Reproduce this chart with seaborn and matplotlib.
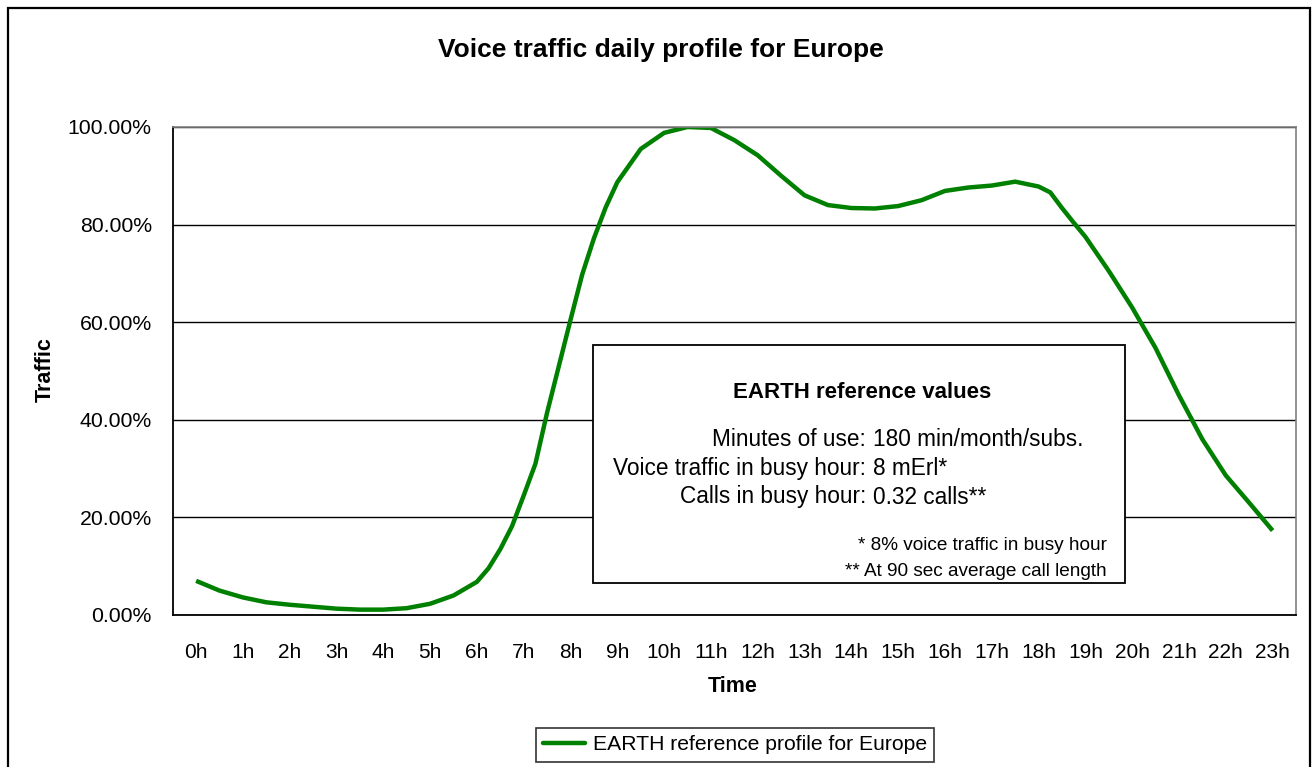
import matplotlib
matplotlib.use("Agg")
import matplotlib.pyplot as plt
import pandas as pd
import seaborn as sns
from matplotlib.patches import Rectangle
from matplotlib.ticker import FixedLocator, FuncFormatter

# Daily voice traffic profile (percent of busy hour);
# half-hour steps, with extra quarter-hour readings on the steep morning rise
hours = [0, 0.5, 1, 1.5, 2, 2.5, 3, 3.5, 4, 4.5, 5, 5.5, 6, 6.25, 6.5, 6.75,
         7, 7.25, 7.5, 7.75, 8, 8.25, 8.5, 8.75, 9, 9.5, 10, 10.5, 11, 11.5,
         12, 12.5, 13, 13.5, 14, 14.5, 15, 15.5, 16, 16.5, 17, 17.5, 18,
         18.25, 18.5, 18.75, 19, 19.5, 20, 20.5, 21, 21.5, 22, 22.5, 23]
traffic = [7.0, 5.0, 3.6, 2.6, 2.1, 1.7, 1.3, 1.1, 1.1, 1.4, 2.3, 4.0, 6.8,
           9.6, 13.5, 18.2, 24.5, 31.0, 41.5, 51.0, 60.5, 69.8, 77.2, 83.5,
           88.7, 95.5, 98.8, 100.0, 99.8, 97.3, 94.2, 90.0, 86.0, 84.0, 83.4,
           83.3, 83.8, 85.0, 86.9, 87.6, 88.0, 88.8, 87.8, 86.6, 83.4, 80.4,
           77.5, 70.5, 63.0, 54.7, 45.0, 36.0, 28.6, 23.0, 17.3]

hour_labels = ["0h", "1h", "2h", "3h", "4h", "5h", "6h", "7h", "8h", "9h",
               "10h", "11h", "12h", "13h", "14h", "15h", "16h", "17h",
               "18h", "19h", "20h", "21h", "22h", "23h"]
y_ticks = [0, 20, 40, 60, 80, 100]

info_labels = ["Minutes of use:", "Voice traffic in busy hour:", "Calls in busy hour:"]
info_values = ["180 min/month/subs.", "8 mErl*", "0.32 calls**"]
footnotes = ["* 8% voice traffic in busy hour", "** At 90 sec average call length"]

GREEN = "#008000"
W, H = 1314, 767


def fx(px):
    return px / W


def fy(py):
    return 1 - py / H


sns.set_style("white")
plt.rcParams['font.family'] = ['Liberation Sans', 'DejaVu Sans']
plt.rcParams['text.color'] = 'black'
plt.rcParams['axes.labelcolor'] = 'black'

fig = plt.figure(figsize=(W / 100, H / 100), dpi=100)
ax = fig.add_axes([fx(172.7), fy(615), (1296 - 172.7) / W, (615 - 127) / H])

df = pd.DataFrame({"hour": hours, "traffic": traffic})
sns.lineplot(data=df, x="hour", y="traffic", ax=ax, color=GREEN, lw=3.2,
             solid_joinstyle="round", solid_capstyle="butt", legend=False)

ax.set_xlim(-0.5, 23.5)
ax.set_ylim(0, 100)
ax.set_xlabel("")
ax.set_ylabel("")

# category axis: labels centered, tick marks between categories
ax.xaxis.set_major_locator(FixedLocator(list(range(24))))
ax.set_xticklabels(hour_labels)
ax.xaxis.set_minor_locator(FixedLocator([i - 0.5 for i in range(25)]))
ax.tick_params(axis="x", which="major", length=0, pad=20, labelsize=15, colors="black")
ax.tick_params(axis="x", which="minor", length=7, width=1.2, direction="out", color="black")

ax.set_yticks(y_ticks)
ax.yaxis.set_major_formatter(FuncFormatter(lambda v, p: f"{v:.2f}%"))
ax.tick_params(axis="y", length=6, width=1.2, direction="out", pad=9, labelsize=15.3, colors="black")

ax.yaxis.grid(True, color="black", lw=1.0)
ax.set_axisbelow(True)
for side in ["left", "bottom"]:
    ax.spines[side].set_color("black")
    ax.spines[side].set_linewidth(1.3)
for side in ["top", "right"]:
    ax.spines[side].set_color("#808080")
    ax.spines[side].set_linewidth(1.2)

# titles
fig.text(fx(661), fy(50), "Voice traffic daily profile for Europe", ha="center", va="center",
         fontsize=19, fontweight="bold")
fig.text(fx(733), fy(686), "Time", ha="center", va="center", fontsize=15.5, fontweight="bold")
fig.text(fx(45), fy(370), "Traffic", ha="center", va="center", rotation=90,
         fontsize=15.5, fontweight="bold")

# reference values box
box = Rectangle((fx(593), fy(583)), (1125 - 593) / W, (583 - 345) / H,
                transform=fig.transFigure, facecolor="white", edgecolor="black",
                lw=1.3, zorder=5)
fig.add_artist(box)
fig.text(fx(862), fy(392), "EARTH reference values", ha="center", va="center",
         fontsize=16, fontweight="bold", zorder=6)
for i, (lab, val) in enumerate(zip(info_labels, info_values)):
    yy = fy(440 + i * 28.5)
    fig.text(fx(866), yy, lab, ha="right", va="center", fontsize=16.3, zorder=6)
    fig.text(fx(873), yy, val, ha="left", va="center", fontsize=16.3, zorder=6)
fig.text(fx(858), fy(545), footnotes[0], ha="left", va="center", fontsize=13.7, zorder=6)
fig.text(fx(845), fy(571), footnotes[1], ha="left", va="center", fontsize=13.7, zorder=6)

# legend at the bottom
handle = plt.Line2D([], [], color=GREEN, lw=3.2)
leg = fig.legend([handle], ["EARTH reference profile for Europe"], loc="center",
                 bbox_to_anchor=(fx(735), fy(745)), fontsize=15.2, frameon=True,
                 fancybox=False, handlelength=2.0, handletextpad=0.35,
                 borderpad=0.35, borderaxespad=0)
leg.get_frame().set_edgecolor("black")
leg.get_frame().set_linewidth(1.2)

# outer chart border
fig.add_artist(Rectangle((fx(8), -0.05), (1310 - 8) / W, fy(8) + 0.05,
                         transform=fig.transFigure, fill=False, edgecolor="black", lw=1.6))

fig.savefig("out.png", dpi=100)
